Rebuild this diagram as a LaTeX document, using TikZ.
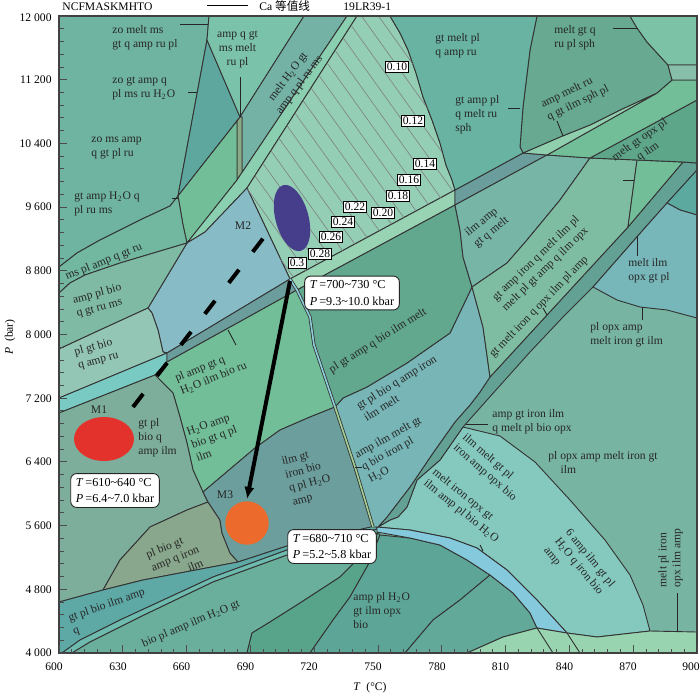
\documentclass[tikz,border=0pt]{standalone}
\usepackage{fontspec}
\setmainfont{Liberation Serif}
\newfontfamily\cjkfont{Noto Sans CJK SC}
\usetikzlibrary{arrows.meta}

\definecolor{cbase}{HTML}{78B4A2}
\definecolor{ctopl}{HTML}{6FB4A0}
\definecolor{ctri}{HTML}{5DA79F}
\definecolor{camp}{HTML}{7BC2AB}
\definecolor{cmeltband}{HTML}{74B2A6}
\definecolor{csliver}{HTML}{8AA987}
\definecolor{cgreen}{HTML}{72BE98}
\definecolor{clight}{HTML}{8ACFB0}
\definecolor{chatch}{HTML}{93CEB5}
\definecolor{cmtwo}{HTML}{87BBC6}
\definecolor{cms}{HTML}{72B7A0}
\definecolor{cbio}{HTML}{7FBAA4}
\definecolor{cpale}{HTML}{94C6B5}
\definecolor{ccyan}{HTML}{7ACAC4}
\definecolor{cgray}{HTML}{6A9D9B}
\definecolor{cstrip}{HTML}{98D3B4}
\definecolor{cmone}{HTML}{7CAE9B}
\definecolor{colive}{HTML}{89A78C}
\definecolor{cmthree}{HTML}{6B9E9C}
\definecolor{cteal}{HTML}{5EA9A6}
\definecolor{cthin}{HTML}{6DBBAE}
\definecolor{cbiopl}{HTML}{6AAF9B}
\definecolor{cdeep}{HTML}{57A48A}
\definecolor{cdark}{HTML}{5DA596}
\definecolor{cdarkb}{HTML}{62A99A}
\definecolor{cblue}{HTML}{85CADC}
\definecolor{cbot}{HTML}{98D4B0}
\definecolor{caqua}{HTML}{85C9BE}
\definecolor{cband}{HTML}{64A195}
\definecolor{cblueteal}{HTML}{78B5B6}
\definecolor{cpgt}{HTML}{62A88E}
\definecolor{cilm}{HTML}{77B5A7}
\definecolor{cgtamp}{HTML}{7FBDA2}
\definecolor{copx}{HTML}{5DA68A}
\definecolor{cwedge}{HTML}{8FCFAE}
\definecolor{csph}{HTML}{67A991}
\definecolor{cgtmelt}{HTML}{68B3A2}
\definecolor{ctopr}{HTML}{7BC2A7}
\definecolor{crect}{HTML}{88BFAA}
\definecolor{csmall}{HTML}{5CA9A0}
\definecolor{cmeltilm}{HTML}{77B6B9}
\definecolor{cdlblue}{HTML}{8FCEDC}
\definecolor{cdlgreen}{HTML}{A4CF94}
\definecolor{cred}{HTML}{E3322B}
\definecolor{cpurple}{HTML}{463D8B}
\definecolor{corange}{HTML}{EC6A2C}

\tikzset{
  region/.style={draw=black!80, line width=0.45pt},
  lab/.style={font=\fontsize{5.8}{7}\selectfont, text=black!85, inner sep=0pt, align=left},
  labc/.style={lab, align=center},
  valbox/.style={draw=black, fill=white, line width=0.35pt, inner sep=0.8pt, font=\fontsize{5.8}{6}\selectfont},
  tbox/.style={draw=black!85, fill=white, rounded corners=3pt, line width=0.45pt, align=left, inner xsep=2.6pt, inner ysep=2.2pt, font=\fontsize{6.1}{8.4}\selectfont},
  leader/.style={draw=black!85, line width=0.45pt},
  hatchline/.style={draw=black!50, line width=0.3pt},
  tickline/.style={draw=black!70, line width=0.45pt},
  ticklab/.style={font=\fontsize{5.8}{6}\selectfont, inner sep=0pt},
  dashpath/.style={line width=2pt, dash pattern=on 8.3pt off 11.3pt},
  arrowpath/.style={line width=2pt, -{Latex[length=6pt,width=5.2pt]}}
}

\begin{document}
\begin{tikzpicture}[x=0.5pt,y=-0.5pt]
\useasboundingbox (0,0) rectangle (700,696);

%fields
\fill[cbase] (59,16) rectangle (697,653);
\filldraw[region,fill=ctopl] (59,16) -- (209,16) -- (207,40) -- (178,196) -- (170,206) -- (140,220) -- (100,240) -- (77,253) -- (59,267) -- cycle;
\filldraw[region,fill=ctri] (207,40) -- (240,117) -- (178,196) -- cycle;
\filldraw[region,fill=camp] (209,16) -- (304,16) -- (240,117) -- (207,40) -- cycle;
\filldraw[region,fill=cmeltband] (304,16) -- (347,16) -- (242,172.5) -- (242,117) -- (240,117) -- cycle;
\filldraw[region,fill=csliver] (237,121) -- (240,117) -- (242,117) -- (242,172.5) -- (237,180) -- cycle;
\filldraw[region,fill=cgreen] (178,196) -- (237,121) -- (237,180) -- (187,243) -- (183,225) -- cycle;
\filldraw[region,fill=clight] (347,16) -- (357,16) -- (247,188) -- (205,232) -- (187,243) -- (237,180) -- cycle;
\filldraw[region,fill=chatch] (357,16) -- (390,16) -- (400,33) -- (408,50) -- (416,73) -- (423,97) -- (432,120) -- (440,143) -- (446,165) -- (452,180) -- (455,190) -- (290,279) -- (247,188) -- cycle;
\filldraw[region,fill=cmtwo] (247,188) -- (290,279) -- (167,353) -- (163,352) -- (158,330) -- (152,313) -- (148,308) -- (187,243) -- (205,232) -- cycle;
\filldraw[region,fill=cms] (59,267) -- (77,253) -- (100,240) -- (140,220) -- (170,206) -- (178,196) -- (183,225) -- (187,243) -- (120,263) -- (85,275) -- (70,283) -- (59,293) -- cycle;
\filldraw[region,fill=cbio] (59,293) -- (70,283) -- (85,275) -- (120,263) -- (187,243) -- (148,308) -- (100,330) -- (59,349) -- cycle;
\filldraw[region,fill=cpale] (59,349) -- (100,330) -- (148,308) -- (152,313) -- (158,330) -- (163,352) -- (167,353) -- (59,398) -- cycle;
\filldraw[region,fill=ccyan] (59,398) -- (167,353) -- (167,362) -- (155,375) -- (59,413) -- cycle;
\filldraw[region,fill=cgray] (167,353) -- (290,279) -- (297,290) -- (167,362) -- cycle;
\filldraw[region,fill=cstrip] (290,279) -- (455,190) -- (455,205) -- (297,290) -- cycle;
\filldraw[region,fill=cgreen] (155,375) -- (167,362) -- (297,290) -- (310,317) -- (314,345) -- (335,407) -- (310,417) -- (280,430) -- (255,448) -- (203,492) -- (193,470) -- (187,443) -- (180,417) -- (173,393) -- cycle;
\filldraw[region,fill=cmone] (59,413) -- (155,375) -- (173,393) -- (180,417) -- (187,443) -- (193,470) -- (203,492) -- (208,502) -- (187,510) -- (150,527) -- (120,560) -- (103,590) -- (59,602) -- cycle;
\filldraw[region,fill=colive] (103,590) -- (120,560) -- (150,527) -- (187,510) -- (208,502) -- (220,520) -- (222,533) -- (230,553) -- (238,562) -- (143,580) -- cycle;
\filldraw[region,fill=cmthree] (203,492) -- (255,448) -- (280,430) -- (310,417) -- (335,407) -- (373,527) -- (287,546) -- (238,562) -- (230,553) -- (222,533) -- (220,520) -- (208,502) -- cycle;
\filldraw[region,fill=cteal] (59,602) -- (103,590) -- (143,580) -- (238,562) -- (287,546) -- (375,526) -- (378,529) -- (287,550) -- (213,577) -- (120,620) -- (80,640) -- (62,653) -- (59,653) -- cycle;
\filldraw[region,fill=cthin] (62,653) -- (80,640) -- (120,620) -- (213,577) -- (287,550) -- (378,529) -- (378,533) -- (290,554) -- (213,582) -- (140,617) -- (90,642) -- (72,653) -- cycle;
\filldraw[region,fill=cbiopl] (72,653) -- (90,642) -- (140,617) -- (213,582) -- (290,554) -- (378,533) -- (365,552) -- (340,577) -- (300,603) -- (270,622) -- (252,633) -- (247,653) -- cycle;
\filldraw[region,fill=cdeep] (247,653) -- (252,633) -- (270,622) -- (300,603) -- (340,577) -- (365,552) -- (378,533) -- (380,535) -- (368,565) -- (350,597) -- (333,620) -- (310,653) -- cycle;
\filldraw[region,fill=cdark] (310,653) -- (333,620) -- (350,597) -- (368,565) -- (380,535) -- (410,538) -- (440,545) -- (467,560) -- (490,575) -- (460,600) -- (433,620) -- (405,653) -- cycle;
\filldraw[region,fill=cdarkb] (405,653) -- (433,620) -- (460,600) -- (490,575) -- (513,593) -- (530,613) -- (537,628) -- (503,637) -- (467,653) -- cycle;
\filldraw[region,fill=caqua] (378,527) -- (390,520) -- (398,517) -- (407,507) -- (417,480) -- (440,460) -- (463,427) -- (500,436) -- (535,462) -- (570,500) -- (605,540) -- (630,575) -- (643,605) -- (650,631) -- (597,637) -- (567,633) -- (537,600) -- (507,570) -- (477,548) -- (450,538) -- (410,530) -- (377,527) -- cycle;
\filldraw[region,fill=cblue] (377,527) -- (410,530) -- (450,538) -- (477,548) -- (507,570) -- (537,600) -- (567,633) -- (537,628) -- (530,613) -- (513,593) -- (490,575) -- (467,560) -- (440,545) -- (410,538) -- (377,532) -- cycle;
\filldraw[region,fill=cbot] (467,653) -- (503,637) -- (537,628) -- (567,633) -- (597,637) -- (650,631) -- (697,632) -- (697,653) -- cycle;
\draw[region] (537,628) -- (553,653);
\draw[region] (567,633) -- (580,653);
\filldraw[region,fill=cband] (683,162) -- (628,227) -- (570,290) -- (490,377) -- (480,392) -- (470,405) -- (455,422) -- (433,453) -- (410,487) -- (387,517) -- (378,527) -- (390,520) -- (398,517) -- (407,507) -- (417,480) -- (440,460) -- (463,427) -- (487,400) -- (530,352) -- (563,317) -- (593,287) -- (643,230) -- (667,203) -- (697,170) -- (697,163) -- cycle;
\filldraw[region,fill=cblueteal] (335,407) -- (343,398) -- (367,387) -- (407,363) -- (450,333) -- (472,287) -- (483,327) -- (490,377) -- (480,392) -- (470,405) -- (455,422) -- (433,453) -- (410,487) -- (387,517) -- (378,527) -- (373,527) -- cycle;
\filldraw[region,fill=cpgt] (297,290) -- (455,205) -- (460,230) -- (463,257) -- (472,287) -- (450,333) -- (407,363) -- (367,387) -- (343,398) -- (335,407) -- (314,345) -- (310,317) -- cycle;
\filldraw[region,fill=cgray] (455,190) -- (523,153) -- (547,155) -- (455,205) -- cycle;
\filldraw[region,fill=cilm] (455,205) -- (547,155) -- (590,158) -- (560,200) -- (527,240) -- (507,263) -- (472,287) -- (463,257) -- (460,230) -- cycle;
\filldraw[region,fill=cgtamp] (590,158) -- (637,160) -- (628,227) -- (570,290) -- (490,377) -- (483,327) -- (472,287) -- (507,263) -- (527,240) -- (560,200) -- cycle;
\filldraw[region,fill=cgreen] (637,160) -- (683,162) -- (628,227) -- cycle;
\filldraw[region,fill=copx] (590,158) -- (697,100) -- (697,163) -- (683,162) -- (637,160) -- cycle;
\filldraw[region,fill=cgreen] (547,155) -- (657,93) -- (672,80) -- (697,80) -- (697,100) -- (590,158) -- cycle;
\filldraw[region,fill=cwedge] (523,153) -- (560,137) -- (590,125) -- (620,110) -- (657,93) -- (547,155) -- cycle;
\filldraw[region,fill=csph] (537,16) -- (630,16) -- (637,28) -- (647,42) -- (657,53) -- (668,65) -- (672,80) -- (657,93) -- (620,110) -- (590,125) -- (560,137) -- (523,153) -- (520,147) -- (523,107) -- (530,50) -- cycle;
\filldraw[region,fill=cgtmelt] (390,16) -- (537,16) -- (530,50) -- (523,107) -- (520,147) -- (523,153) -- (455,190) -- (452,180) -- (446,165) -- (440,143) -- (432,120) -- (423,97) -- (416,73) -- (408,50) -- (400,33) -- cycle;
\filldraw[region,fill=ctopr] (630,16) -- (697,16) -- (697,65) -- (668,65) -- (657,53) -- (647,42) -- (637,28) -- cycle;
\filldraw[region,fill=crect] (668,65) -- (697,65) -- (697,80) -- (672,80) -- cycle;
\filldraw[region,fill=csmall] (667,203) -- (697,170) -- (697,215) -- (680,210) -- cycle;
\filldraw[region,fill=cmeltilm] (593,287) -- (643,230) -- (667,203) -- (680,210) -- (697,215) -- (697,318) -- (667,310) -- (640,307) -- (617,300) -- cycle;

%Ca isopleths
\begin{scope}
\clip (357,16) -- (390,16) -- (400,33) -- (408,50) -- (416,73) -- (423,97) -- (432,120) -- (440,143) -- (446,165) -- (452,180) -- (455,190) -- (290,279) -- (247,188) -- cycle;
\foreach \s in {78,95,...,410}{
  \draw[hatchline] (\s,0) -- ++(290,405);
}
\end{scope}

%double line
\draw[line width=1.6pt,black!80] (290,279) -- (297,290) -- (310,317) -- (314,345) -- (335,407) -- (355,467) -- (373,527);
\draw[line width=0.8pt,cdlblue] (290,279) -- (297,290) -- (310,317) -- (314,345) -- (335,407);
\draw[line width=0.8pt,cdlgreen] (335,407) -- (355,467) -- (373,527);

%leaders
\draw[leader] (180,24.3) -- (208,24.3);
\draw[leader] (188,92.7) -- (197,92.7);
\draw[leader] (172,198) -- (178,198);
\draw[leader] (240,77) -- (240,117);
\draw[leader] (228,330) -- (236,345);
\draw[leader] (355,467) -- (362,467);
\draw[leader] (508,108) -- (520,108);
\draw[leader] (613,28) -- (638,28);
\draw[leader] (557,121) -- (563,136);
\draw[leader] (623,180) -- (634,180);
\draw[leader] (637,237) -- (637,256);
\draw[leader] (642,307) -- (642,320);
\draw[leader] (466,424) -- (488,424);
\draw[leader] (543,308) -- (547,315);
\draw[leader] (480,545) -- (483,551);
\draw[leader] (677,593) -- (677,632);

%samples
\fill[cred] (104,439) ellipse [x radius=30, y radius=22];
\fill[cpurple, rotate around={15:(292,218)}] (292,218) ellipse [x radius=16.5, y radius=34];
\fill[corange] (247,523) circle (21.7);

\coordinate (m1dash) at (133,407);
\coordinate (m2dash) at (265,236);
\coordinate (m2arr) at (290,281);
\coordinate (m3arr) at (247,499);
\draw[dashpath] (m1dash) -- (m2dash);
\draw[arrowpath] (m2arr) -- (m3arr);

%labels
\node[lab, anchor=north west] (lzoa) at (112,25) {zo melt ms\\gt q amp ru pl};
\node[lab, anchor=north west] (lzob) at (112,77) {zo gt amp q\\pl ms ru H\textsubscript{2}O};
\node[lab, anchor=north west] (lzoc) at (91,137) {zo ms amp\\q gt pl ru};
\node[lab, anchor=north west] (lgtamph) at (74,191) {gt amp H\textsubscript{2}O q\\pl ru ms};
\node[labc, anchor=north] (lampqgt) at (237.5,31) {amp q gt\\ms melt\\ru pl};
\node[labc, rotate=53] (lmelth) at (294,81) {melt H\textsubscript{2}O gt\\amp q pl ru ms};
\node[lab, rotate=22] (lmspl) at (104,262) {ms pl amp q gt ru};
\node[lab, rotate=15] (lamppl) at (99,301) {amp pl bio\\q gt ru ms};
\node[lab, rotate=15] (lplgt) at (96.5,354) {pl gt bio\\q amp ru};
\node[lab] (lmone) at (99,410) {M1};
\node[lab, anchor=north west] (lgtpl) at (138,418) {gt pl\\bio q\\amp ilm};
\node[lab, rotate=22] (lplamp) at (211,372) {pl amp gt q\\H\textsubscript{2}O ilm bio ru};
\node[lab, rotate=20] (lhamp) at (214,437) {H\textsubscript{2}O amp\\bio gt q pl\\ilm};
\node[lab] (lmtwo) at (243,226) {M2};
\node[lab, rotate=15] (lilmgt) at (308,477) {ilm gt\\iron bio\\q pl H\textsubscript{2}O\\amp};
\node[lab] (lmthree) at (225,495) {M3};
\node[lab, rotate=22] (lplbio) at (175,558) {pl bio gt\\amp q iron\\\hspace*{2.9em}ilm};
\node[lab, rotate=19] (lgtplbio) at (109,612) {gt pl bio ilm amp\\q};
\node[lab, rotate=23] (lbiopl) at (191,624) {bio pl amp ilm H\textsubscript{2}O gt};
\node[lab, rotate=32] (lplgtamp) at (378,341) {pl gt amp q bio ilm melt};
\node[lab, rotate=32] (lgtplbioq) at (400,388) {gt pl bio q amp iron\\ilm melt};
\node[lab, rotate=29] (lampilm) at (395,450) {amp ilm melt gt\\q bio iron pl\\H\textsubscript{2}O};
\node[lab, rotate=39] (lilmamp) at (487,227) {ilm amp\\gt q melt};
\node[lab, rotate=44] (lgtampiron) at (541,264) {gt amp iron q melt ilm pl\\melt pl gt amp q ilm opx};
\node[lab, rotate=46] (lgtmeltiron) at (539,307) {gt melt iron q opx ilm pl amp};
\node[lab, anchor=north west] (lgtmeltpl) at (435,33) {gt melt pl\\q amp ru};
\node[lab, anchor=north west] (lgtamppl) at (455,95) {gt amp pl\\q melt ru\\sph};
\node[lab, anchor=north west] (lmeltgtq) at (554,25) {melt gt q\\ru pl sph};
\node[lab, rotate=26] (lampmelt) at (575,97) {amp melt ru\\q gt ilm sph pl};
\node[labc, rotate=35] (lmeltgtopx) at (644,146) {melt gt opx pl\\q ilm};
\node[lab, anchor=north west] (lmeltilm) at (628,258) {melt ilm\\opx gt pl};
\node[lab, anchor=north west] (lplopx) at (590,322) {pl opx amp\\melt iron gt ilm};
\node[lab, anchor=north west] (lampgt) at (492,409) {amp gt iron ilm\\q melt pl bio opx};
\node[lab, anchor=north west] (lplopxb) at (548,451) {pl opx amp melt iron gt\\\hspace*{1.05em}ilm};
\node[lab, rotate=-41] (lilmmelt) at (489.5,467.5) {ilm melt gt pl\\iron amp opx bio};
\node[lab, rotate=-39] (lmeltiron) at (465.5,506) {melt iron opx gt\\ilm amp pl bio H\textsubscript{2}O};
\node[lab, rotate=-51] (lsixamp) at (579,567) {6 amp ilm gt pl\\H\textsubscript{2}O q iron bio\\amp};
\node[lab, rotate=90] (lmeltpl) at (670.5,558) {melt pl iron\\opx ilm amp};
\node[lab, anchor=north west] (lampplh) at (353,592) {amp pl H\textsubscript{2}O\\gt ilm opx\\bio};

%isopleth values
\node[valbox] (vten) at (397,67) {0.10};
\node[valbox] (vtwelve) at (413,121) {0.12};
\node[valbox] (vfourteen) at (425,164) {0.14};
\node[valbox] (vsixteen) at (409,180) {0.16};
\node[valbox] (veighteen) at (398,196) {0.18};
\node[valbox] (vtwenty) at (383,213) {0.20};
\node[valbox] (vtwentytwo) at (355,207) {0.22};
\node[valbox] (vtwentyfour) at (343,222) {0.24};
\node[valbox] (vtwentysix) at (331,237) {0.26};
\node[valbox] (vtwentyeight) at (320,254) {0.28};
\node[valbox] (vthirty) at (297,263) {0.3};

%P-T boxes
\node[tbox] (boxone) at (115,490.5) {\textit{T}\,=610\textasciitilde640 °C\\\textit{P}\,=6.4\textasciitilde7.0 kbar};
\node[tbox] (boxtwo) at (352,293) {\textit{T}\,=700\textasciitilde730 °C\\\textit{P}\,=9.3\textasciitilde10.0 kbar};
\node[tbox] (boxthree) at (332,546.5) {\textit{T}\,=680\textasciitilde710 °C\\\textit{P}\,=5.2\textasciitilde5.8 kbar};

%frame and ticks
\draw[line width=0.6pt,black!75] (59,16) rectangle (697,653);
\foreach \i in {0,...,50}{
  \pgfmathsetmacro{\yy}{653-12.74*\i}
  \pgfmathsetmacro{\xx}{59+12.76*\i}
  \pgfmathsetmacro{\len}{ifthenelse(mod(\i,5)==0,8,4.5)}
  \draw[tickline] (59,\yy) -- ++(\len,0);
  \draw[tickline] (\xx,653) -- ++(0,-\len);
}

\node[ticklab, anchor=east] (pa) at (52,653) {4 000};
\node[ticklab, anchor=east] (pb) at (52,589.3) {4 800};
\node[ticklab, anchor=east] (pc) at (52,525.6) {5 600};
\node[ticklab, anchor=east] (pd) at (52,461.9) {6 400};
\node[ticklab, anchor=east] (pe) at (52,398.2) {7 200};
\node[ticklab, anchor=east] (pf) at (52,334.5) {8 000};
\node[ticklab, anchor=east] (pg) at (52,270.8) {8 800};
\node[ticklab, anchor=east] (ph) at (52,207.1) {9 600};
\node[ticklab, anchor=east] (pi) at (52,143.4) {10 400};
\node[ticklab, anchor=east] (pj) at (52,79.7) {11 200};
\node[ticklab, anchor=east] (pk) at (52,18) {12 000};

\node[ticklab] (ta) at (54,667) {600};
\node[ticklab] (tb) at (118,667) {630};
\node[ticklab] (tc) at (181.5,667) {660};
\node[ticklab] (td) at (245.5,667) {690};
\node[ticklab] (te) at (309,667) {720};
\node[ticklab] (tf) at (373,667) {750};
\node[ticklab] (tg) at (437,667) {780};
\node[ticklab] (th) at (500.5,667) {810};
\node[ticklab] (ti) at (564.5,667) {840};
\node[ticklab] (tj) at (628,667) {870};
\node[ticklab] (tk) at (691,667) {900};

\node[ticklab, rotate=90] (ylab) at (10,337) {\textit{P}\enspace(bar)};
\node[ticklab] (xlab) at (370,688) {\textit{T}\enspace(°C)};

%header
\node[ticklab, anchor=west] (hsys) at (62,6.5) {NCFMASKMHTO};
\draw[line width=0.5pt] (207,5) -- (248,5);
\node[ticklab, anchor=west] (hca) at (259,6) {Ca {\cjkfont 等值线}};
\node[ticklab, anchor=west] (hsample) at (343,6.5) {19LR39-1};

\end{tikzpicture}
\end{document}
